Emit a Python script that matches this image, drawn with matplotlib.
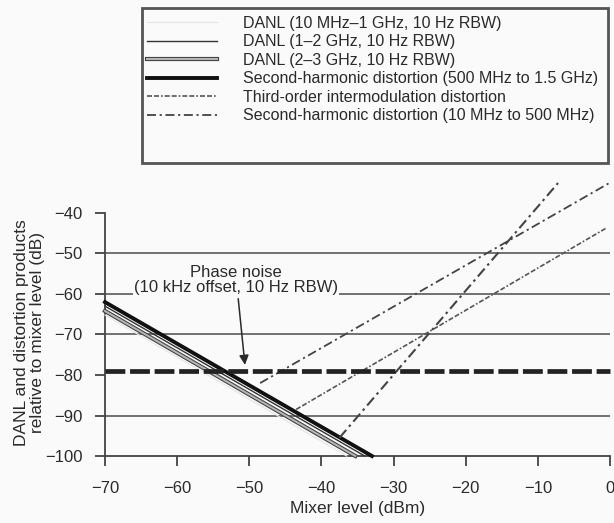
import matplotlib
matplotlib.use("Agg")
import matplotlib.pyplot as plt
import matplotlib.patheffects as pe
from matplotlib.patches import Rectangle

plt.rcParams['font.family'] = ['Liberation Sans', 'DejaVu Sans']

# data (mixer level dBm -> dB relative to mixer level)
danl_10m_x = [-70, -36.5]
danl_10m_y = [-65.2, -100]
danl_1g_x = [-70, -34]
danl_1g_y = [-63, -100]
danl_2g_x = [-70, -35.3]
danl_2g_y = [-64.2, -100]
shd_hi_x = [-70, -33]
shd_hi_y = [-62, -100]
toi_x = [-43.5, -0.5]
toi_y = [-88.5, -43.7]
shd_lo_x = [-48.5, 0]
shd_lo_y = [-82, -32.5]
steep_x = [-37.5, -7.2]
steep_y = [-95.5, -32.6]
phase_x = [-70, 0]
phase_y = [-79, -79]
grid_levels = [-50, -60, -70, -90]
xticks = [-70, -60, -50, -40, -30, -20, -10, 0]
yticks = [-40, -50, -60, -70, -80, -90, -100]

bg = '#fafafa'
ink = '#2a2a2a'
fig = plt.figure(figsize=(6.14, 5.23), dpi=100, facecolor=bg)
ax = fig.add_axes([0.171, 0.1281, 0.8225, 0.5266], facecolor=bg)

ax.hlines(grid_levels, -70, 0, color='#5a5a5a', lw=1.2, zorder=1)

l_10m, = ax.plot(danl_10m_x, danl_10m_y, color='#e6e6e6', lw=0.9, zorder=3,
                 label='DANL (10 MHz\u20131 GHz, 10 Hz RBW)')
l_2g, = ax.plot(danl_2g_x, danl_2g_y, color='#b8b8b8', lw=1.4, zorder=3,
                path_effects=[pe.Stroke(linewidth=3.0, foreground='#444'), pe.Normal()],
                label='DANL (2\u20133 GHz, 10 Hz RBW)')
l_1g, = ax.plot(danl_1g_x, danl_1g_y, color='#333', lw=1.0, zorder=3,
                label='DANL (1\u20132 GHz, 10 Hz RBW)')
l_hi, = ax.plot(shd_hi_x, shd_hi_y, color='#111', lw=2.8, zorder=3,
                label='Second-harmonic distortion (500 MHz to 1.5 GHz)')
l_toi, = ax.plot(toi_x, toi_y, color='#555', lw=1.2, zorder=3,
                 linestyle=(0, (3, 1.2, 3, 1.2, 1, 1.2)),
                 label='Third-order intermodulation distortion')
l_lo, = ax.plot(shd_lo_x, shd_lo_y, color='#444', lw=1.3, zorder=3,
                linestyle=(0, (5, 2, 1.2, 2)),
                label='Second-harmonic distortion (10 MHz to 500 MHz)')
ax.plot(steep_x, steep_y, color='#444', lw=1.5, zorder=3,
        linestyle=(0, (5, 2, 1.2, 2)))
ax.plot(phase_x, phase_y, color='#222', lw=3.4, zorder=3,
        linestyle=(0, (4.2, 1.0)), solid_capstyle='butt', dash_capstyle='butt')

for ln in ax.lines:
    ln.set_clip_on(False)

ax.annotate('Phase noise\n(10 kHz offset, 10 Hz RBW)', xy=(-50.6, -77.5), xytext=(-51.8, -56.5),
            ha='center', va='center', fontsize=12, color=ink, linespacing=1.05, zorder=2.5,
            bbox=dict(boxstyle='square,pad=0.05', fc=bg, ec='none'),
            arrowprops=dict(arrowstyle='-|>', color=ink, lw=1.1, mutation_scale=14,
                            shrinkA=2, shrinkB=0))

ax.set_xlim(-70, 0)
ax.set_ylim(-100, -32)
ax.set_xticks(xticks)
ax.set_yticks(yticks)
ax.set_xticklabels([f'\u2212{-t}' if t < 0 else str(t) for t in xticks])
ax.set_yticklabels([f'\u2212{-t}' for t in yticks])
ax.tick_params(axis='x', direction='out', length=7, width=1.3, pad=11, labelsize=12,
               colors='#444', labelcolor=ink)
ax.tick_params(axis='y', direction='out', length=7, width=1.3, pad=9, labelsize=12,
               colors='#444', labelcolor=ink)
for s in ['top', 'right']:
    ax.spines[s].set_visible(False)
for s in ['left', 'bottom']:
    ax.spines[s].set_color('#444')
    ax.spines[s].set_linewidth(1.3)
ax.spines['left'].set_bounds(-100, -40)

ax.set_xlabel('Mixer level (dBm)', fontsize=12.5, color=ink)
ax.xaxis.set_label_coords(0.5, -0.165)
ax.set_ylabel('DANL and distortion products\nrelative to mixer level (dB)', fontsize=12.5,
              color=ink, linespacing=1.05)
ax.yaxis.set_label_coords(-0.119, 0.447)

# legend box drawn separately so the padding matches the reference
fig.patches.append(Rectangle((0.2313, 0.6883), 0.759, 0.2964, transform=fig.transFigure,
                             fill=False, ec='#555', lw=2.0))
handles = [l_10m, l_1g, l_2g, l_hi, l_toi, l_lo]
fig.legend(handles, [h.get_label() for h in handles], loc='upper left',
           bbox_to_anchor=(0.2394, 0.970), frameon=False, fontsize=11.5,
           handlelength=4.4, handletextpad=1.6, labelspacing=0.22, borderpad=0,
           borderaxespad=0, labelcolor=ink)

fig.savefig('out.png', dpi=100, facecolor=bg)
